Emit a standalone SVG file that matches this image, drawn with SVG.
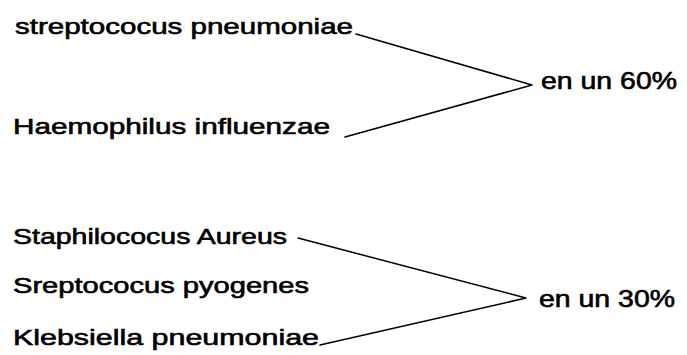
<svg xmlns="http://www.w3.org/2000/svg" width="687" height="355" viewBox="0 0 687 355">
  <style>
    .lbl { font-family: "Liberation Sans", "DejaVu Sans", sans-serif; font-size: 22px; fill: #000; stroke: #000; stroke-width: 0.6; }
    .pct { font-family: "Liberation Sans", "DejaVu Sans", sans-serif; font-size: 23px; fill: #000; stroke: #000; stroke-width: 0.6; }
    .conn { stroke: #000; stroke-width: 1.5; fill: none; stroke-linecap: round; stroke-linejoin: round; }
  </style>
  <rect width="687" height="355" fill="#fff"/>

  <!-- first group: 60% -->
  <g id="n-strep-pneumoniae">
    <text class="lbl" x="15" y="34" textLength="338" lengthAdjust="spacingAndGlyphs">streptococus pneumoniae</text>
  </g>
  <g id="n-haemophilus">
    <text class="lbl" x="13" y="134" textLength="317" lengthAdjust="spacingAndGlyphs">Haemophilus influenzae</text>
  </g>
  <g id="n-60">
    <text class="pct" x="541" y="89" textLength="136" lengthAdjust="spacingAndGlyphs">en un 60%</text>
  </g>

  <!-- second group: 30% -->
  <g id="n-staph-aureus">
    <text class="lbl" x="13" y="244" textLength="274" lengthAdjust="spacingAndGlyphs">Staphilococus Aureus</text>
  </g>
  <g id="n-strep-pyogenes">
    <text class="lbl" x="13" y="293" textLength="296" lengthAdjust="spacingAndGlyphs">Sreptococus pyogenes</text>
  </g>
  <g id="n-klebsiella">
    <text class="lbl" x="13" y="345" textLength="306" lengthAdjust="spacingAndGlyphs">Klebsiella pneumoniae</text>
  </g>
  <g id="n-30">
    <text class="pct" x="539" y="307" textLength="136" lengthAdjust="spacingAndGlyphs">en un 30%</text>
  </g>

  <g id="connectors">
    <polyline class="conn" points="356,34 532,85 345,137"/>
    <polyline class="conn" points="298,238 526,298 320,345"/>
  </g>
</svg>
